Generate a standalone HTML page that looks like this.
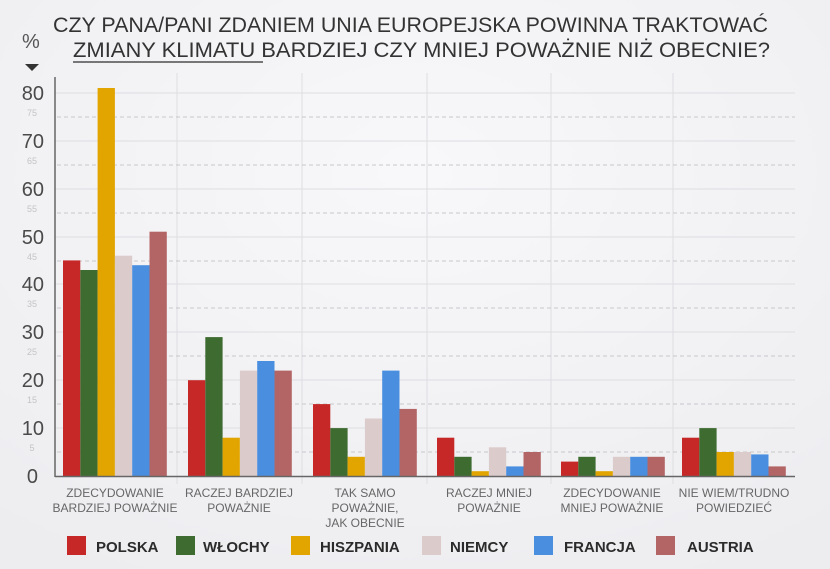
<!DOCTYPE html>
<html><head><meta charset="utf-8"><style>
body{margin:0;background:#f3f3f5;}
svg{display:block;font-family:"Liberation Sans",sans-serif;}
</style></head><body>
<svg width="830" height="569" viewBox="0 0 830 569" xmlns="http://www.w3.org/2000/svg">
<defs><radialGradient id="bg" cx="0.5" cy="0.3" r="0.8"><stop offset="0" stop-color="#f8f8fa"/><stop offset="1" stop-color="#ededf0"/></radialGradient></defs>
<rect width="830" height="569" fill="url(#bg)"/>
<text x="53" y="32" font-size="21" fill="#333" textLength="715" lengthAdjust="spacingAndGlyphs">CZY PANA/PANI ZDANIEM UNIA EUROPEJSKA POWINNA TRAKTOWAĆ</text>
<text x="73" y="57" font-size="21" fill="#333" textLength="697" lengthAdjust="spacingAndGlyphs">ZMIANY KLIMATU BARDZIEJ CZY MNIEJ POWAŻNIE NIŻ OBECNIE?</text>
<rect x="73" y="61" width="190" height="2" fill="#777"/>
<text x="22" y="48" font-size="20" fill="#555">%</text>
<polygon points="25,64 39,64 32,71" fill="#333"/>
<g stroke="#dedee2" stroke-width="1">
<line x1="55" y1="93" x2="795" y2="93"/><line x1="55" y1="141" x2="795" y2="141"/><line x1="55" y1="189" x2="795" y2="189"/><line x1="55" y1="237" x2="795" y2="237"/><line x1="55" y1="284" x2="795" y2="284"/><line x1="55" y1="332" x2="795" y2="332"/><line x1="55" y1="380" x2="795" y2="380"/><line x1="55" y1="428" x2="795" y2="428"/>
<line x1="177" y1="73" x2="177" y2="484"/><line x1="302" y1="73" x2="302" y2="484"/><line x1="427" y1="73" x2="427" y2="484"/><line x1="551" y1="73" x2="551" y2="484"/><line x1="673" y1="73" x2="673" y2="484"/>
</g>
<g stroke="#c8c8cc" stroke-width="1" stroke-dasharray="4,3">
<line x1="57" y1="117" x2="795" y2="117"/><line x1="57" y1="165" x2="795" y2="165"/><line x1="57" y1="213" x2="795" y2="213"/><line x1="57" y1="261" x2="795" y2="261"/><line x1="57" y1="308" x2="795" y2="308"/><line x1="57" y1="356" x2="795" y2="356"/><line x1="57" y1="404" x2="795" y2="404"/><line x1="57" y1="452" x2="795" y2="452"/>
</g>
<g font-size="20" fill="#4a4a4a" text-anchor="end">
<text x="44" y="100">80</text><text x="44" y="148">70</text><text x="44" y="196">60</text><text x="44" y="244">50</text><text x="44" y="291">40</text><text x="44" y="339">30</text><text x="44" y="387">20</text><text x="44" y="435">10</text><text x="38" y="483">0</text>
</g>
<g font-size="9" fill="#c4c4c8" text-anchor="middle">
<text x="32" y="116">75</text><text x="32" y="164">65</text><text x="32" y="212">55</text><text x="32" y="260">45</text><text x="32" y="307">35</text><text x="32" y="355">25</text><text x="32" y="403">15</text><text x="32" y="451">5</text>
</g>
<g>
<rect x="63" y="260.4" width="17.3" height="215.6" fill="#c62828"/><rect x="80.3" y="270" width="17.3" height="206" fill="#3e6b30"/><rect x="97.6" y="88" width="17.3" height="388" fill="#e2a500"/><rect x="114.9" y="255.7" width="17.3" height="220.3" fill="#dccbcb"/><rect x="132.2" y="265.2" width="17.3" height="210.8" fill="#4a8fdf"/><rect x="149.5" y="231.7" width="17.3" height="244.3" fill="#b36565"/>
<rect x="188" y="380.2" width="17.3" height="95.8" fill="#c62828"/><rect x="205.3" y="337.1" width="17.3" height="138.9" fill="#3e6b30"/><rect x="222.6" y="437.7" width="17.3" height="38.3" fill="#e2a500"/><rect x="239.9" y="370.6" width="17.3" height="105.4" fill="#dccbcb"/><rect x="257.2" y="361" width="17.3" height="115" fill="#4a8fdf"/><rect x="274.5" y="370.6" width="17.3" height="105.4" fill="#b36565"/>
<rect x="313" y="404.1" width="17.3" height="71.9" fill="#c62828"/><rect x="330.3" y="428.1" width="17.3" height="47.9" fill="#3e6b30"/><rect x="347.6" y="456.8" width="17.3" height="19.2" fill="#e2a500"/><rect x="364.9" y="418.5" width="17.3" height="57.5" fill="#dccbcb"/><rect x="382.2" y="370.6" width="17.3" height="105.4" fill="#4a8fdf"/><rect x="399.5" y="408.9" width="17.3" height="67.1" fill="#b36565"/>
<rect x="437" y="437.7" width="17.3" height="38.3" fill="#c62828"/><rect x="454.3" y="456.8" width="17.3" height="19.2" fill="#3e6b30"/><rect x="471.6" y="471.2" width="17.3" height="4.8" fill="#e2a500"/><rect x="488.9" y="447.3" width="17.3" height="28.7" fill="#dccbcb"/><rect x="506.2" y="466.4" width="17.3" height="9.6" fill="#4a8fdf"/><rect x="523.5" y="452" width="17.3" height="24" fill="#b36565"/>
<rect x="561" y="461.6" width="17.3" height="14.4" fill="#c62828"/><rect x="578.3" y="456.8" width="17.3" height="19.2" fill="#3e6b30"/><rect x="595.6" y="471.2" width="17.3" height="4.8" fill="#e2a500"/><rect x="612.9" y="456.8" width="17.3" height="19.2" fill="#dccbcb"/><rect x="630.2" y="456.8" width="17.3" height="19.2" fill="#4a8fdf"/><rect x="647.5" y="456.8" width="17.3" height="19.2" fill="#b36565"/>
<rect x="682" y="437.7" width="17.3" height="38.3" fill="#c62828"/><rect x="699.3" y="428.1" width="17.3" height="47.9" fill="#3e6b30"/><rect x="716.6" y="452" width="17.3" height="24" fill="#e2a500"/><rect x="733.9" y="452" width="17.3" height="24" fill="#dccbcb"/><rect x="751.2" y="454.4" width="17.3" height="21.6" fill="#4a8fdf"/><rect x="768.5" y="466.4" width="17.3" height="9.6" fill="#b36565"/>
</g>
<line x1="55" y1="77" x2="55" y2="477" stroke="#666" stroke-width="1.5"/>
<line x1="55" y1="476.5" x2="795" y2="476.5" stroke="#666" stroke-width="1.5"/>
<g font-size="12" fill="#666" text-anchor="middle">
<text x="115" y="497">ZDECYDOWANIE</text><text x="115" y="512">BARDZIEJ POWAŻNIE</text>
<text x="239" y="497">RACZEJ BARDZIEJ</text><text x="239" y="512">POWAŻNIE</text>
<text x="365" y="497">TAK SAMO</text><text x="365" y="512">POWAŻNIE,</text><text x="365" y="527">JAK OBECNIE</text>
<text x="489" y="497">RACZEJ MNIEJ</text><text x="489" y="512">POWAŻNIE</text>
<text x="612" y="497">ZDECYDOWANIE</text><text x="612" y="512">MNIEJ POWAŻNIE</text>
<text x="734" y="497">NIE WIEM/TRUDNO</text><text x="734" y="512">POWIEDZIEĆ</text>
</g>
<g font-size="15" font-weight="bold" fill="#2b2b2b">
<rect x="67" y="536" width="19" height="19" fill="#c62828"/><text x="96" y="552">POLSKA</text>
<rect x="176" y="536" width="19" height="19" fill="#3e6b30"/><text x="203" y="552">WŁOCHY</text>
<rect x="291" y="536" width="19" height="19" fill="#e2a500"/><text x="320" y="552">HISZPANIA</text>
<rect x="422" y="536" width="19" height="19" fill="#dccbcb"/><text x="450" y="552">NIEMCY</text>
<rect x="534" y="536" width="19" height="19" fill="#4a8fdf"/><text x="564" y="552">FRANCJA</text>
<rect x="656" y="536" width="19" height="19" fill="#b36565"/><text x="687" y="552">AUSTRIA</text>
</g>
</svg>
</body></html>
